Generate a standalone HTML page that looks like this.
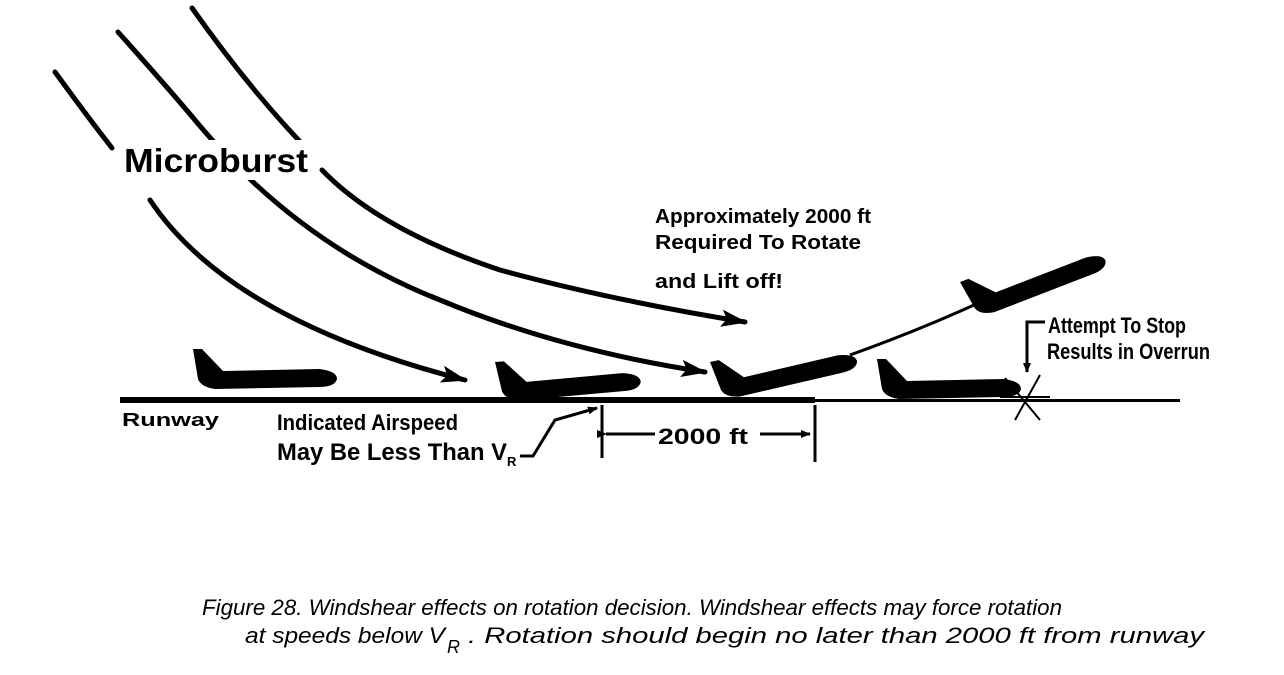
<!DOCTYPE html>
<html><head><style>html,body{margin:0;padding:0;background:#fff}svg{display:block}</style></head>
<body>
<svg width="1284" height="675" viewBox="0 0 1284 675" xmlns="http://www.w3.org/2000/svg">
<defs>
<path id="pl" d="M0,0 L9,0 L30,22 L126,20 Q144,22 144,30 Q142,38 126,38 L22,40 Q8,38 5,30 Z"/>
<marker id="ah" markerWidth="10" markerHeight="8" refX="9" refY="4" orient="auto" markerUnits="userSpaceOnUse">
<path d="M0,0 L10,4 L0,8 Z"/></marker>
<marker id="ab" viewBox="0 0 24 16" markerWidth="26" markerHeight="18" refX="22" refY="8" orient="auto" markerUnits="userSpaceOnUse">
<path d="M0,0 L24,8 L0,16 L5,8 Z"/></marker>
</defs>
<g fill="none" stroke="#000" stroke-width="5" stroke-linecap="round">
<path d="M55,72 Q90,120 112,148" />
<path d="M150,200 Q230,320 465,380" marker-end="url(#ab)"/>
<path d="M118,32 Q170,90 200,126 Q300,245 440,300 Q560,350 705,372" marker-end="url(#ab)"/>
<path d="M192,8 Q250,90 308,150" />
<path d="M322,170 Q380,230 500,270 Q610,300 745,322" marker-end="url(#ab)"/>
</g>
<rect x="120" y="140" width="192" height="40" fill="#fff"/>
<!-- runway -->
<rect x="120" y="397" width="695" height="6" fill="#000"/>
<rect x="815" y="399" width="365" height="3" fill="#000"/>
<!-- planes -->
<g fill="#000">
<use href="#pl" transform="translate(193,349)"/>
<use href="#pl" transform="translate(495,362) rotate(-4)"/>
<use href="#pl" transform="translate(710,362) rotate(-12)"/>
<use href="#pl" transform="translate(960,282) rotate(-20)"/>
<use href="#pl" transform="translate(877,359)"/>
</g>
<path d="M850,355 Q920,330 985,300" stroke="#000" stroke-width="3" fill="none"/>
<!-- star -->
<g stroke="#000" stroke-width="2">
<line x1="1005" y1="378" x2="1040" y2="420"/><line x1="1040" y1="375" x2="1015" y2="420"/>
<line x1="1000" y1="397" x2="1050" y2="397"/>
</g>
<path d="M1045,322 L1027,322 L1027,372" stroke="#000" stroke-width="3" fill="none" marker-end="url(#ah)"/>
<g stroke="#000" stroke-width="3" fill="none">
<line x1="602" y1="405" x2="602" y2="458"/>
<line x1="815" y1="405" x2="815" y2="462"/>
<line x1="606" y1="434" x2="655" y2="434" marker-start="url(#ah)"/>
<line x1="760" y1="434" x2="810" y2="434" marker-end="url(#ah)"/>
<path d="M520,456 L533,456 L555,420 L597,408" marker-end="url(#ah)"/>
</g>
<g font-family="Liberation Sans, sans-serif" font-weight="bold" fill="#000">
<text x="124" y="172" font-size="33" textLength="184" lengthAdjust="spacingAndGlyphs">Microburst</text>
<text x="655" y="223" font-size="20" textLength="216" lengthAdjust="spacingAndGlyphs">Approximately 2000 ft</text>
<text x="655" y="249" font-size="20" textLength="206" lengthAdjust="spacingAndGlyphs">Required To Rotate</text>
<text x="655" y="288" font-size="20" textLength="128" lengthAdjust="spacingAndGlyphs">and Lift off!</text>
<text x="1048" y="333" font-size="22" textLength="138" lengthAdjust="spacingAndGlyphs">Attempt To Stop</text>
<text x="1047" y="359" font-size="22" textLength="163" lengthAdjust="spacingAndGlyphs">Results in Overrun</text>
<text x="122" y="426" font-size="18" textLength="97" lengthAdjust="spacingAndGlyphs">Runway</text>
<text x="277" y="430" font-size="22" textLength="181" lengthAdjust="spacingAndGlyphs">Indicated Airspeed</text>
<text x="277" y="460" font-size="24" textLength="230" lengthAdjust="spacingAndGlyphs">May Be Less Than V</text>
<text x="507" y="466" font-size="13">R</text>
<text x="658" y="444" font-size="22" textLength="90" lengthAdjust="spacingAndGlyphs">2000 ft</text>
</g>
<g font-family="Liberation Sans, sans-serif" font-style="italic" fill="#000" font-size="22">
<text x="202" y="615" textLength="860" lengthAdjust="spacingAndGlyphs">Figure 28.  Windshear effects on rotation decision. Windshear effects may force rotation</text>
<text x="245" y="643" textLength="200" lengthAdjust="spacingAndGlyphs">at speeds below V</text>
<text x="447" y="653" font-size="18">R</text>
<text x="468" y="643" textLength="736" lengthAdjust="spacingAndGlyphs">. Rotation should begin no later than 2000 ft from runway</text>
</g>
</svg>
</body></html>
